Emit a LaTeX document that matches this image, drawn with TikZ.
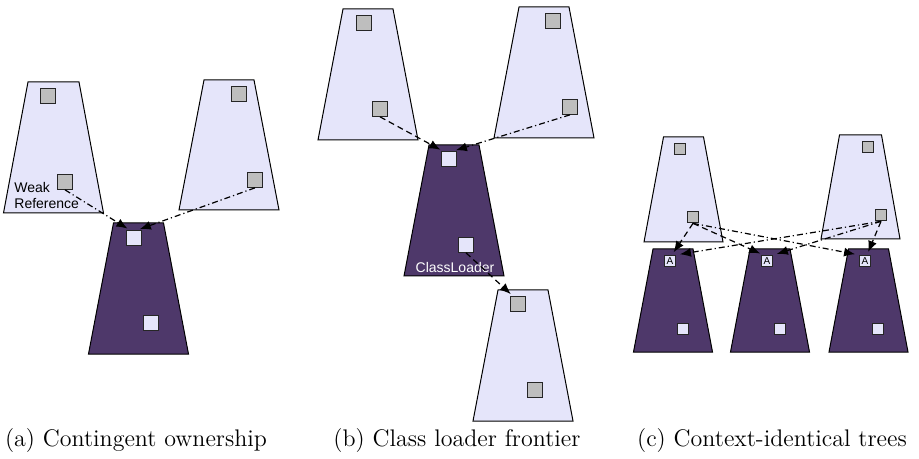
\documentclass[tikz,border=0pt]{standalone}
\usepackage{fontspec}
\newfontfamily\labelfont{Liberation Sans}
\usetikzlibrary{arrows.meta}
\definecolor{lav}{RGB}{229,229,250}
\definecolor{plum}{RGB}{78,56,106}
\definecolor{boxgray}{RGB}{190,190,190}
\tikzset{
  lighttrap/.style={fill=lav, draw=black, line width=0.5pt},
  darktrap/.style={fill=plum, draw=black, line width=0.5pt},
  graysq/.style={draw=black!85, fill=boxgray, line width=0.6pt, minimum size=7.25pt, inner sep=0pt},
  whitesq/.style={draw=black!85, fill=lav, line width=0.6pt, minimum size=7.25pt, inner sep=0pt},
  smallgray/.style={graysq, minimum size=5.75pt},
  smallwhite/.style={whitesq, minimum size=5.75pt},
  asq/.style={whitesq, minimum size=5.75pt, line width=0.5pt, font=\labelfont\fontsize{5}{5}\selectfont},
  reflink/.style={line width=0.6pt, -{Latex[length=5.5pt,width=4.5pt]}, shorten >=1.5pt},
  nearlink/.style={reflink, dash pattern=on 3pt off 2pt},
  farlink/.style={reflink, dash pattern=on 3pt off 1.5pt on 0.6pt off 1.5pt},
  labeltext/.style={font=\labelfont\fontsize{7}{8}\selectfont, align=left, inner sep=0pt},
  captext/.style={font=\fontsize{12}{14}\selectfont, inner sep=0pt},
}
\newcommand\trapez[6]{\draw[#1] ({#2-#5/2},#3) -- ({#2+#5/2},#3) -- ({#2+#6/2},#4) -- ({#2-#6/2},#4) -- cycle;}
\begin{document}
\begin{tikzpicture}[x=0.5pt,y=-0.5pt]
\useasboundingbox (0,0) rectangle (919,459);
% ---------- (a) ----------
\trapez{lighttrap}{53.5}{82}{213}{51}{100}
\trapez{lighttrap}{229}{80}{210}{50}{100}
\trapez{darktrap}{138.5}{223}{354}{50}{100}
\node[graysq] (a1) at (48,96) {};
\node[graysq] (a2) at (65,182) {};
\node[graysq] (a3) at (239,94) {};
\node[graysq] (a4) at (255,180) {};
\node[whitesq] (a5) at (134,238) {};
\node[whitesq] (a6) at (151,323) {};
\node[labeltext, anchor=west] (weak) at (14,195) {Weak\\Reference};
\draw[farlink] (a2.south) -- ([xshift=-2pt]a5.north);
\draw[farlink] (a4.south) -- ([xshift=1.5pt]a5.north);
% ---------- (b) ----------
\trapez{lighttrap}{368}{9}{140}{50}{100}
\trapez{lighttrap}{544}{7}{138}{50}{100}
\trapez{darktrap}{454}{145}{276}{50}{100}
\trapez{lighttrap}{523}{290}{421}{50}{100}
\node[graysq] (b1) at (364,23) {};
\node[graysq] (b2) at (380,109) {};
\node[graysq] (b3) at (553,21) {};
\node[graysq] (b4) at (570,107) {};
\node[whitesq] (b5) at (449,159) {};
\node[whitesq] (b6) at (466,245) {};
\node[graysq] (b7) at (518,304) {};
\node[graysq] (b8) at (535,390) {};
\node[labeltext, text=white] (cl) at (455,267) {ClassLoader};
\draw[nearlink] (b2.south) -- ([xshift=-3pt]b5.north);
\draw[farlink] (b4.south) -- ([xshift=2pt]b5.north);
\draw[nearlink] (b6.south) -- ([xshift=-2.5pt]b7.north);
% ---------- (c) ----------
\trapez{lighttrap}{683.5}{137}{242}{40}{79}
\trapez{lighttrap}{860.5}{135}{239}{42}{79}
\trapez{darktrap}{673}{249}{352}{40}{79}
\trapez{darktrap}{770}{249}{352}{40}{79}
\trapez{darktrap}{868.5}{249}{352}{40}{79}
\node[smallgray] (c1) at (680,149) {};
\node[smallgray] (c2) at (693,217) {};
\node[smallgray] (c3) at (868,147) {};
\node[smallgray] (c4) at (881,215) {};
\node[asq] (ca1) at (670,261) {A};
\node[asq] (ca2) at (767,261) {A};
\node[asq] (ca3) at (865,261) {A};
\node[smallwhite] (cw1) at (683,329) {};
\node[smallwhite] (cw2) at (780,329) {};
\node[smallwhite] (cw3) at (878,329) {};
\draw[nearlink] (c2.south) -- ([xshift=1pt]ca1.north);
\draw[nearlink] (c2.south) -- ([xshift=-2pt]ca2.north);
\draw[farlink] (c2.south) -- ([xshift=-3.5pt]ca3.north);
\draw[farlink] (c4.south) -- ([xshift=3.5pt]ca1.north);
\draw[farlink] (c4.south) -- ([xshift=3.5pt]ca2.north);
\draw[nearlink] (c4.south) -- ([xshift=1pt]ca3.north);
% ---------- captions ----------
\node[captext] (capa) at (136,441) {(a) Contingent ownership};
\node[captext] (capb) at (457,441) {(b) Class loader frontier};
\node[captext] (capc) at (772,441) {(c) Context-identical trees};
\end{tikzpicture}
\end{document}
